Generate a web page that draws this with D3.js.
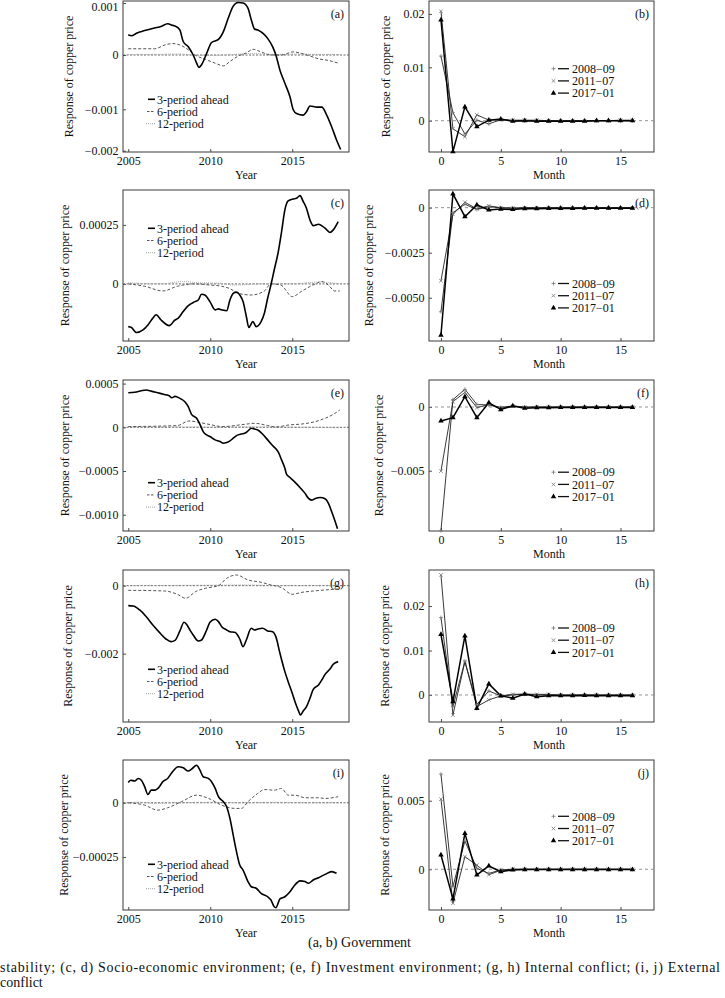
<!DOCTYPE html>
<html><head><meta charset="utf-8">
<script src="https://cdn.jsdelivr.net/npm/d3@7"></script>
<style>
html,body{margin:0;padding:0;background:#fff;}
svg{display:block;}
svg text{font-family:"Liberation Serif","Times New Roman",serif;}
</style></head><body>
<svg id="c" width="725" height="998"></svg>
<script>
// ---------------- DATA ----------------
const yearTicks = [2005, 2010, 2015];
const monthTicks = [0, 5, 10, 15];
const months = [0,1,2,3,4,5,6,7,8,9,10,11,12,13,14,15,16];
const leftSeriesNames = ["3-period ahead", "6-period", "12-period"];
const rightSeriesNames = ["2008\u221209", "2011\u221207", "2017\u221201"];

// (a) Government stability
const a3 = [[2005.0,0.00039],[2005.2,0.00037],[2005.5,0.00042],[2006.0,0.00047],[2006.6,0.00052],[2007.0,0.00055],[2007.4,0.0006],[2007.7,0.00057],[2007.9,0.00055],[2008.15,0.00048],[2008.35,0.00026],[2008.66,0.00016],[2008.96,0],[2009.17,-0.00015],[2009.3,-0.00023],[2009.47,-0.00018],[2009.78,0.00003],[2010.08,0.00024],[2010.5,0.0003],[2010.8,0.00045],[2011.1,0.00071],[2011.4,0.00094],[2011.7,0.00101],[2012.0,0.001],[2012.3,0.0009],[2012.5,0.00068],[2012.7,0.0005],[2012.9,0.00048],[2013.2,0.00042],[2013.5,0.00032],[2013.8,0.00016],[2014.0,0],[2014.25,-0.00028],[2014.55,-0.00052],[2014.86,-0.00077],[2015.06,-0.00101],[2015.26,-0.0011],[2015.67,-0.00114],[2015.87,-0.00106],[2016.08,-0.00094],[2016.5,-0.00096],[2016.8,-0.00096],[2017.1,-0.00114],[2017.4,-0.00142],[2017.7,-0.00174],[2017.95,-0.00197]];
const a6 = [[2005,0.00012],[2006.6,0.00012],[2007.3,0.0002],[2007.7,0.00022],[2008.25,0.00018],[2008.66,0.0001],[2009.07,0],[2009.7,-0.00008],[2010.3,-0.00015],[2010.8,-0.0002],[2011.2,-0.00012],[2011.7,-0.00002],[2012.2,0.00004],[2012.6,0.00011],[2013.1,0.00006],[2013.7,0],[2014.35,0],[2015.06,0.00006],[2015.57,0.00003],[2016.1,-0.00002],[2016.6,-0.00007],[2017.2,-0.0001],[2017.8,-0.00015]];
const a12 = [[2005,0.00001],[2006.5,0.00001],[2008,0.00002],[2009.5,-0.00001],[2011,0],[2012.5,0.00003],[2014,0.00001],[2015.5,0.00002],[2016.5,0.00001],[2017.9,0.00001]];
const b2008 = [0.0121,0.0015,-0.0025,0.0001,-0.0006,0.0002,0,0,0,0,0,0,0,0,0,0,0];
const b2011 = [0.0205,-0.0015,-0.003,0.0011,0.0001,0.0002,0.0001,0.0001,0.0001,0,0,0,0,0,0,0.0001,0.0001];
const b2017 = [0.0189,-0.0058,0.0026,-0.0011,0.0001,0.0003,-0.0001,0,-0.0001,-0.0001,-0.0001,-0.0001,-0.0001,0,0,0,0];

// (c, d) Socio-economic environment
const c3 = [[2005,-0.000181],[2005.2,-0.000185],[2005.5,-0.000206],[2005.9,-0.000195],[2006.2,-0.000174],[2006.5,-0.000145],[2006.7,-0.000131],[2007.0,-0.000153],[2007.3,-0.000171],[2007.5,-0.000177],[2007.85,-0.000153],[2008.05,-0.000145],[2008.35,-0.000117],[2008.66,-0.000092],[2009.07,-0.000075],[2009.27,-0.000068],[2009.47,-0.000044],[2009.67,-0.000047],[2009.98,-0.000075],[2010.3,-0.00011],[2010.5,-0.000106],[2010.7,-0.00011],[2011.0,-0.000114],[2011.2,-0.000068],[2011.4,-0.00004],[2011.6,-0.000035],[2011.8,-0.000047],[2012.0,-0.000075],[2012.2,-0.000138],[2012.35,-0.000185],[2012.6,-0.00016],[2012.8,-0.000181],[2013.1,-0.00016],[2013.3,-0.000124],[2013.5,-0.000061],[2013.7,-0.000004],[2013.9,0.000059],[2014.15,0.000137],[2014.35,0.000222],[2014.55,0.000314],[2014.75,0.000352],[2015.06,0.00036],[2015.26,0.000363],[2015.47,0.000374],[2015.67,0.000349],[2015.87,0.00032],[2016.08,0.000271],[2016.28,0.000247],[2016.6,0.000253],[2017.0,0.000236],[2017.3,0.000218],[2017.5,0.000229],[2017.8,0.000264]];
const c6 = [[2005,0],[2006,-0.00001],[2007.1,-0.00003],[2008,-0.00001],[2009,0],[2010,-0.000005],[2010.7,-0.00001],[2011.2,-0.00002],[2011.7,-0.00004],[2012.5,-0.000047],[2013.3,-0.00003],[2013.7,0],[2014.3,-0.000005],[2015,-0.000054],[2015.6,-0.00003],[2016.4,0],[2016.8,0.00001],[2017.2,-0.000005],[2017.6,-0.00003],[2017.9,-0.00003]];
const c12 = [[2005,0.000005],[2007,0],[2008.3,0.00001],[2009.3,0.000005],[2010.5,0.000003],[2011.5,-0.000005],[2013,0],[2015,0],[2016.6,0.000008],[2017.9,0]];
const d2008 = [-0.00578,-0.00028,0.00019,-0.0001,0.00005,0,-0.00003,-0.00002,-0.00002,-0.00001,0,0,0,0,0,0,0];
const d2011 = [-0.00406,-0.00037,0.0003,-0.00007,0.0001,-0.00001,-0.00003,0,0,0,0,0,0,0,0,0,0];
const d2017 = [-0.00707,0.00076,-0.0005,0.00015,-0.00013,-0.00008,-0.0001,-0.00005,-0.00006,-0.00004,-0.00004,-0.00004,-0.00003,-0.00003,-0.00003,-0.00003,-0.00003];

// (e, f) Investment environment
const e3 = [[2005,0.000395],[2005.4,0.0004],[2005.8,0.000418],[2006.1,0.000426],[2006.4,0.000414],[2006.8,0.000395],[2007.2,0.000376],[2007.5,0.000361],[2007.65,0.000338],[2007.85,0.000354],[2008.15,0.000331],[2008.45,0.000293],[2008.66,0.000236],[2008.86,0.000148],[2009.17,0.000103],[2009.37,0.000034],[2009.57,-0.000049],[2009.78,-0.000087],[2009.98,-0.000106],[2010.3,-0.000144],[2010.6,-0.000163],[2010.8,-0.000183],[2011.0,-0.000175],[2011.2,-0.000156],[2011.4,-0.000125],[2011.6,-0.000095],[2011.9,-0.000076],[2012.1,-0.000068],[2012.3,-0.000042],[2012.5,-0.000011],[2012.7,-0.000019],[2012.9,-0.00003],[2013.2,-0.00008],[2013.5,-0.000144],[2013.8,-0.000209],[2014.15,-0.000285],[2014.35,-0.000373],[2014.55,-0.000468],[2014.65,-0.000536],[2014.86,-0.000574],[2015.16,-0.000627],[2015.47,-0.000688],[2015.77,-0.000753],[2015.98,-0.00081],[2016.18,-0.000833],[2016.38,-0.000817],[2016.7,-0.000802],[2017.0,-0.000817],[2017.2,-0.000867],[2017.4,-0.000962],[2017.6,-0.001068],[2017.76,-0.00116]];
const e6 = [[2005,0.000008],[2008,0.00002],[2008.7,0.000072],[2009.3,0.000057],[2010.1,0.000027],[2010.7,0.000008],[2012.1,0.000034],[2012.7,0.000046],[2013.5,0.00002],[2014,0.000004],[2014.8,0.000027],[2015.6,0.000038],[2016.4,0.000065],[2017,0.000103],[2017.5,0.000148],[2017.9,0.000198]];
const e12 = [[2005,0.000005],[2008,0.000003],[2010,0.000002],[2012,0.000005],[2014,0.000002],[2016,0],[2017.9,-0.000005]];
const f2008 = [-0.0097,0.00058,0.00139,0.0002,0.00016,-0.00002,0.00008,0,0,0,0,0,0,0,0,0,0];
const f2011 = [-0.00503,0.00042,0.00115,-0.00005,0.0002,-0.0001,0.00008,-0.00002,0,0,0,0,0,0,0,0,0];
const f2017 = [-0.0011,-0.00084,0.00081,-0.00084,0.00034,-0.0002,0.00008,-0.0001,-0.00005,-0.00005,-0.00004,-0.00004,-0.00004,-0.00004,-0.00003,-0.00003,-0.00003];

// (g, h) Internal conflict
const g3 = [[2005,-0.000588],[2005.3,-0.000598],[2005.7,-0.000716],[2006.1,-0.000912],[2006.5,-0.001157],[2006.9,-0.001373],[2007.3,-0.001569],[2007.6,-0.001647],[2007.85,-0.001608],[2008.15,-0.001333],[2008.4,-0.001078],[2008.55,-0.001137],[2008.76,-0.001304],[2008.96,-0.001451],[2009.27,-0.001627],[2009.47,-0.001598],[2009.78,-0.001304],[2009.98,-0.001078],[2010.3,-0.00099],[2010.5,-0.001059],[2010.7,-0.001206],[2011.0,-0.001304],[2011.2,-0.001353],[2011.5,-0.001373],[2011.8,-0.001569],[2012.0,-0.001794],[2012.2,-0.001598],[2012.5,-0.001255],[2012.7,-0.001304],[2012.9,-0.001275],[2013.2,-0.001255],[2013.5,-0.001333],[2013.8,-0.001353],[2014.0,-0.0015],[2014.25,-0.00199],[2014.55,-0.002529],[2014.75,-0.002824],[2015.0,-0.003167],[2015.2,-0.003461],[2015.4,-0.003706],[2015.5,-0.003804],[2015.67,-0.003686],[2015.87,-0.003559],[2016.08,-0.003314],[2016.28,-0.003049],[2016.6,-0.002922],[2016.8,-0.002775],[2017.0,-0.002608],[2017.3,-0.002451],[2017.5,-0.002314],[2017.8,-0.002235]];
const g6 = [[2005,-0.000137],[2007.2,-0.000157],[2008,-0.000255],[2008.5,-0.000373],[2009.1,-0.000176],[2009.7,-0.000078],[2010.5,0],[2011,0.000216],[2011.6,0.000314],[2012.3,0.000167],[2013.1,0.0001],[2013.7,0.00002],[2014.35,-0.00006],[2015,-0.000255],[2015.6,-0.000196],[2016.3,-0.000157],[2017,-0.000127],[2017.8,-0.000098]];
const g12 = [[2005,0],[2009,0.00001],[2012,0.00002],[2015,0],[2017.9,0.00001]];
const h2008 = [0.0174,-0.0026,0.0076,-0.0021,0.0009,-0.0002,0,0.0002,0,0,0,0,0,0,0,0,0];
const h2011 = [0.027,-0.0045,0.0075,-0.0026,-0.0011,-0.0002,0.00015,0.0002,0.00015,0.00015,0,0,0,0,0,0,0];
const h2017 = [0.0136,-0.0015,0.0133,-0.003,0.0025,-0.0002,-0.0007,0.0002,-0.0004,-0.00015,-0.00015,-0.00015,-0.0001,-0.00015,-0.00015,-0.00015,-0.00015];

// (i, j) External conflict
const i3 = [[2005,0.0000936],[2005.15,0.000104],[2005.4,0.0001],[2005.6,0.000112],[2005.8,0.000104],[2006.0,0.000074],[2006.2,0.000038],[2006.4,0.000058],[2006.6,0.000058],[2006.9,0.000074],[2007.1,0.000097],[2007.4,0.000112],[2007.7,0.000143],[2008.05,0.000166],[2008.35,0.000161],[2008.66,0.000146],[2008.86,0.000155],[2009.17,0.000173],[2009.37,0.00015],[2009.57,0.00012],[2009.88,0.000112],[2010.08,0.000097],[2010.3,0.000066],[2010.5,0.000028],[2010.8,0.0000046],[2011.0,-0.000018],[2011.2,-0.000072],[2011.4,-0.000149],[2011.6,-0.000225],[2011.8,-0.000287],[2012.0,-0.00031],[2012.3,-0.000363],[2012.5,-0.000387],[2012.8,-0.000394],[2013.1,-0.000417],[2013.5,-0.000433],[2013.7,-0.000448],[2013.9,-0.000479],[2014.0,-0.000483],[2014.25,-0.000443],[2014.55,-0.000433],[2014.86,-0.00041],[2015.16,-0.000379],[2015.47,-0.00036],[2015.77,-0.000363],[2015.98,-0.000371],[2016.28,-0.000356],[2016.6,-0.000345],[2017.0,-0.00033],[2017.4,-0.000317],[2017.7,-0.000325]];
const i6 = [[2005,0],[2006,-0.000011],[2006.8,-0.000034],[2007.4,-0.000023],[2008.25,0.000005],[2009.17,0.000035],[2009.9,0.00002],[2010.7,-0.000011],[2011.5,-0.000026],[2011.9,-0.000026],[2012.3,0.000005],[2012.9,0.000043],[2013.3,0.000061],[2013.9,0.000058],[2014.35,0.000066],[2014.75,0.000035],[2015.16,0.000035],[2015.8,0.000023],[2016.6,0.000023],[2017,0.00002],[2017.6,0.000025],[2017.8,0.000028]];
const i12 = [[2005,-0.000003],[2005.6,0.000003],[2006.5,-0.000003],[2008,0],[2010,0.000002],[2012,0],[2014,0.000002],[2016,0],[2017.9,0]];
const j2008 = [0.00694,-0.00126,0.00206,0.00007,-0.0003,-0.00005,0,0,0,0,0,0,0,0,0,0,0];
const j2011 = [0.00512,-0.00248,0.00092,0.0003,-0.0004,-0.00007,0,0,0,0,0,0,0,0,0,0,0];
const j2017 = [0.00104,-0.00216,0.00262,-0.00041,0.00024,-0.00017,-0.00005,-0.00002,-0.00002,-0.00002,-0.00002,-0.00002,-0.00002,-0.00002,-0.00002,-0.00002,-0.00002];

// y tick values and labels
const aTicks = [0.001, 0, -0.001, -0.002], aLabels = ["0.001","0","\u22120.001","\u22120.002"];
const bTicks = [0.02, 0.01, 0], bLabels = ["0.02","0.01","0"];
const cTicks = [0.00025, 0], cLabels = ["0.00025","0"];
const dTicks = [0, -0.0025, -0.005], dLabels = ["0","\u22120.0025","\u22120.0050"];
const eTicks = [0.0005, 0, -0.0005, -0.001], eLabels = ["0.0005","0","\u22120.0005","\u22120.0010"];
const fTicks = [0, -0.005], fLabels = ["0","\u22120.005"];
const gTicks = [0, -0.002], gLabels = ["0","\u22120.002"];
const hTicks = [0.02, 0.01, 0], hLabels = ["0.02","0.01","0"];
const iTicks = [0, -0.00025], iLabels = ["0","\u22120.00025"];
const jTicks = [0.005, 0], jLabels = ["0.005","0"];

const captionLines = ["(a, b) Government",
  "stability; (c, d) Socio-economic environment; (e, f) Investment environment; (g, h) Internal conflict; (i, j) External",
  "conflict"];

// ---------------- LAYOUT ----------------
const FONT = "Liberation Serif, Times New Roman, serif";
const svg = d3.select("#c").attr("font-family", FONT);
const FS = 12;
const LX = [123, 349], RX = [429, 654];
const rows = [[1,152],[190,341],[380,531],[570,722],[760,910]];

const leftPanels = [
  {tag:"(a)", row:0, s:[a3,a6,a12], ydom:[-0.002,-0.001,0,0.001], yran:[150.7,109.3,55,3], ticks:aTicks, labels:aLabels, legY:99.3, ylabX:68.3},
  {tag:"(c)", row:1, s:[c3,c6,c12], ydom:[-0.000242,0.000398], ticks:cTicks, labels:cLabels, legY:228.3, ylabX:65},
  {tag:"(e)", row:2, s:[e3,e6,e12], ydom:[-0.001186,0.000541], ticks:eTicks, labels:eLabels, legY:482.7, ylabX:65},
  {tag:"(g)", row:3, s:[g3,g6,g12], ydom:[-0.00401,0.00046], ticks:gTicks, labels:gLabels, legY:669.3, ylabX:68},
  {tag:"(i)", row:4, s:[i3,i6,i12], ydom:[-0.000494,0.000197], ticks:iTicks, labels:iLabels, legY:864.3, ylabX:63.3}
];
const rightPanels = [
  {tag:"(b)", row:0, s:[b2008,b2011,b2017], ydom:[-0.00586,0.02242], ticks:bTicks, labels:bLabels, legY:68.7, ylabX:385.7},
  {tag:"(d)", row:1, s:[d2008,d2011,d2017], ydom:[-0.0074,0.00098], ticks:dTicks, labels:dLabels, legY:283.5, ylabX:368.5},
  {tag:"(f)", row:2, s:[f2008,f2011,f2017], ydom:[-0.00973,0.00212], ticks:fTicks, labels:fLabels, legY:472.2, ylabX:378.3},
  {tag:"(h)", row:3, s:[h2008,h2011,h2017], ydom:[-0.00607,0.0281], ticks:hTicks, labels:hLabels, legY:628, ylabX:385},
  {tag:"(j)", row:4, s:[j2008,j2011,j2017], ydom:[-0.00297,0.00797], ticks:jTicks, labels:jLabels, legY:816.3, ylabX:385}
];

const frameColor = "#3a3a3a";

function styleAxis(g){
  g.attr("font-family", FONT).attr("font-size", FS);
  g.select(".domain").remove();
  g.selectAll(".tick line").attr("stroke", frameColor).attr("stroke-width", 0.9);
  g.selectAll(".tick text").attr("fill", "#111");
}
function txt(x, y){
  return svg.append("text").attr("x", x).attr("y", y).attr("font-family", FONT).attr("font-size", FS).attr("fill", "#111");
}

function frameAndAxes(xr, top, bottom, x, y, xt, p, xTitle, xTitleX){
  svg.append("rect").attr("x", xr[0]).attr("y", top).attr("width", xr[1]-xr[0]).attr("height", bottom-top)
    .attr("fill","none").attr("stroke",frameColor).attr("stroke-width",1);
  const ya = svg.append("g").attr("transform",`translate(${xr[0]},0)`)
    .call(d3.axisLeft(y).tickValues(p.ticks).tickSize(-3).tickPadding(4.5).tickFormat((d,i)=>p.labels[i]))
    .call(styleAxis);
  ya.selectAll(".tick text").attr("dy", d => (y(d) < 6 ? "0.6em" : "0.32em"));
  svg.append("g").attr("transform",`translate(0,${bottom})`)
    .call(d3.axisBottom(x).tickValues(xt).tickSize(-3).tickPadding(4.5).tickFormat(d3.format("d")))
    .call(styleAxis);
  txt(xTitleX, bottom+27).attr("text-anchor","middle").text(xTitle);
  svg.append("text").attr("transform",`translate(${p.ylabX},${(top+bottom)/2}) rotate(-90)`)
    .attr("font-family", FONT).attr("dy","0.35em").attr("text-anchor","middle").attr("font-size",FS).attr("fill","#111")
    .text("Response of copper price");
  txt(xr[1]-5, top+17).attr("text-anchor","end").text(p.tag);
}

// ---------------- LEFT PANELS ----------------
const xYear = d3.scaleLinear().domain([2004.68, 2018.46]).range(LX);
const leftStyles = [
  {stroke:"#000", w:1.6, dash:null},
  {stroke:"#555", w:1, dash:"3,2"},
  {stroke:"#a0a0a0", w:0.9, dash:"1,1"}
];
leftPanels.forEach(p=>{
  const [top,bottom] = rows[p.row];
  const y = d3.scaleLinear().domain(p.ydom).range(p.yran || [bottom, top]);
  frameAndAxes(LX, top, bottom, xYear, y, yearTicks, p, "Year", 246);
  svg.append("line").attr("x1",LX[0]).attr("x2",LX[1]).attr("y1",y(0)).attr("y2",y(0))
    .attr("stroke","#555").attr("stroke-width",0.9).attr("stroke-dasharray","2,1.5");
  const line = d3.line().x(d=>xYear(d[0])).y(d=>y(d[1])).curve(d3.curveMonotoneX);
  [2,1,0].forEach(k=>{
    const st = leftStyles[k];
    svg.append("path").datum(p.s[k]).attr("d",line).attr("fill","none")
      .attr("stroke",st.stroke).attr("stroke-width",st.w).attr("stroke-dasharray",st.dash);
  });
  leftSeriesNames.forEach((nm,k)=>{
    const st = leftStyles[k];
    const yy = p.legY + k*12.2;
    svg.append("line").attr("x1", k==2?146:(k==1?147:148)).attr("x2",155).attr("y1",yy).attr("y2",yy)
      .attr("stroke",st.stroke).attr("stroke-width",k==0?1.6:1).attr("stroke-dasharray",k==1?"2.5,1.5":st.dash);
    txt(157, yy).attr("dy","0.35em").text(nm);
  });
});

// ---------------- RIGHT PANELS ----------------
const xMonth = d3.scaleLinear().domain([-1.0, 17.8]).range(RX);
const rightStyles = [
  {stroke:"#222", w:0.9, mark:"plus"},
  {stroke:"#222", w:0.9, mark:"cross"},
  {stroke:"#000", w:1.5, mark:"tri"}
];
function drawMark(g, type, cx, cy){
  if(type==="plus"){
    g.append("path").attr("d",`M${cx-2},${cy}H${cx+2}M${cx},${cy-2}V${cy+2}`).attr("stroke","#777").attr("stroke-width",0.8).attr("fill","none");
  } else if(type==="cross"){
    g.append("path").attr("d",`M${cx-1.8},${cy-1.8}L${cx+1.8},${cy+1.8}M${cx-1.8},${cy+1.8}L${cx+1.8},${cy-1.8}`).attr("stroke","#777").attr("stroke-width",0.8).attr("fill","none");
  } else {
    g.append("path").attr("d",d3.symbol(d3.symbolTriangle,13)()).attr("transform",`translate(${cx},${cy})`).attr("fill","#000");
  }
}
rightPanels.forEach(p=>{
  const [top,bottom] = rows[p.row];
  const y = d3.scaleLinear().domain(p.ydom).range([bottom, top]);
  frameAndAxes(RX, top, bottom, xMonth, y, monthTicks, p, "Month", 549);
  svg.append("line").attr("x1",RX[0]).attr("x2",RX[1]).attr("y1",y(0)).attr("y2",y(0))
    .attr("stroke","#888").attr("stroke-width",0.9).attr("stroke-dasharray","3,3");
  const line = d3.line().x((d,i)=>xMonth(months[i])).y(d=>y(d));
  p.s.forEach((vals,k)=>{
    const st = rightStyles[k];
    svg.append("path").datum(vals).attr("d",line).attr("fill","none").attr("stroke",st.stroke).attr("stroke-width",st.w);
  });
  p.s.forEach((vals,k)=>{
    const g = svg.append("g");
    vals.forEach((v,i)=>drawMark(g, rightStyles[k].mark, xMonth(months[i]), y(v)));
  });
  rightSeriesNames.forEach((nm,k)=>{
    const yy = p.legY + k*12.2;
    const g = svg.append("g");
    drawMark(g, rightStyles[k].mark, 553.5, yy);
    svg.append("line").attr("x1",558).attr("x2",569).attr("y1",yy).attr("y2",yy).attr("stroke","#111").attr("stroke-width",1.3);
    txt(572, yy).attr("dy","0.35em").text(nm);
  });
});

// ---------------- CAPTION ----------------
txt(359.5, 947).attr("text-anchor","middle").attr("font-size",14).text(captionLines[0]);
txt(0, 972).attr("font-size",14).attr("textLength",720).attr("lengthAdjust","spacing").text(captionLines[1]);
txt(0, 987).attr("font-size",14).text(captionLines[2]);
</script>
</body></html>
